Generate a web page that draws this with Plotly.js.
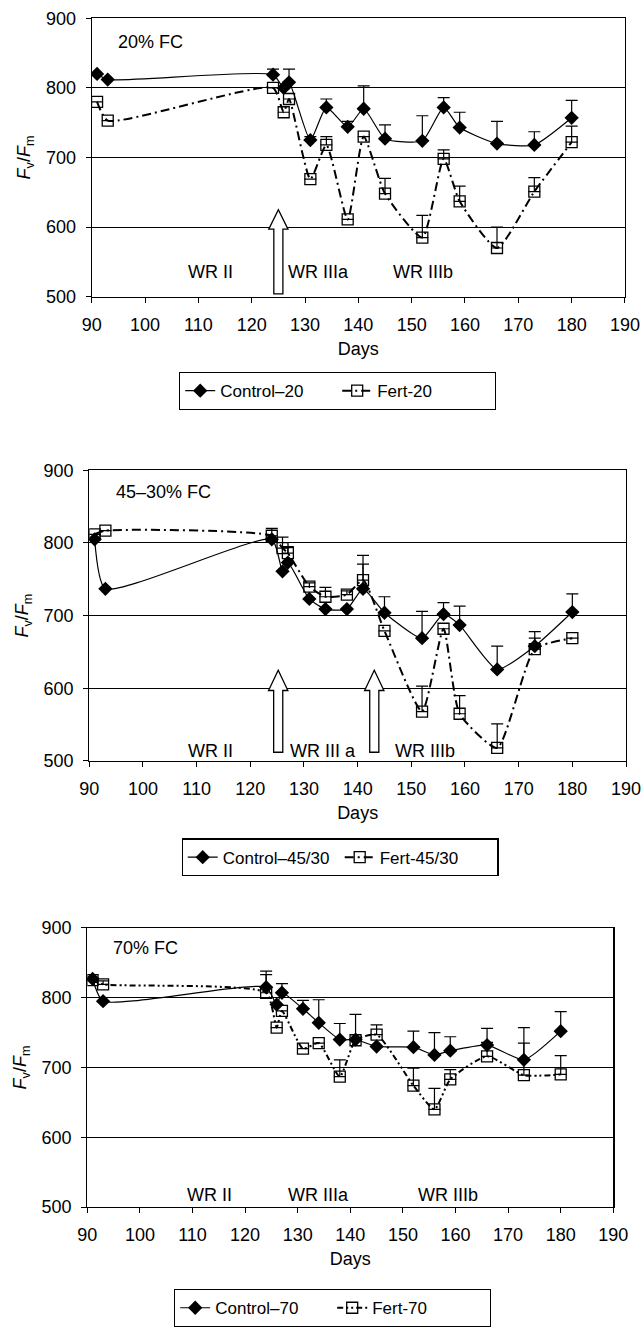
<!DOCTYPE html>
<html>
<head>
<meta charset="utf-8">
<script src="https://cdn.plot.ly/plotly-3.0.1.min.js"></script>
<style>html,body{margin:0;padding:0;background:#fff;}#chart{width:641px;height:1327px;}</style>
</head>
<body>
<div id="chart"></div>
<script>
// ---- data ----
const days = [91, 93, 124, 126, 127, 131, 134, 138, 141, 145, 152, 156, 159, 166, 173, 180];

const ctrl20    = [820, 812, 819, 800, 808, 725, 772, 744, 770, 727, 724, 772, 743, 720, 718, 757];
const ctrl20Err = [0, 0, 8, 0, 19, 5, 12, 8, 33, 20, 36, 14, 22, 32, 19, 25];
const fert20    = [780, 753, 800, 765, 784, 669, 718, 611, 730, 648, 585, 698, 637, 570, 651, 722];
const fert20Err = [0, 0, 0, 0, 0, 0, 12, 0, 0, 22, 32, 13, 22, 30, 20, 23];

const ctrl45    = [805, 737, 805, 761, 773, 723, 709, 709, 737, 704, 669, 702, 687, 626, 658, 705];
const ctrl45Err = [0, 0, 0, 0, 0, 0, 0, 0, 34, 22, 37, 16, 26, 32, 20, 25];
const fert45    = [812, 817, 810, 793, 786, 740, 726, 729, 749, 679, 568, 682, 565, 518, 654, 669];
const fert45Err = [0, 0, 10, 15, 9, 5, 13, 5, 34, 0, 35, 0, 25, 33, 15, 0];

const ctrl70    = [827, 795, 815, 790, 807, 784, 764, 740, 740, 730, 729, 718, 724, 732, 711, 752];
const ctrl70Err = [0, 0, 23, 0, 13, 12, 33, 23, 0, 0, 23, 32, 20, 24, 46, 28];
const fert70    = [825, 819, 807, 757, 781, 727, 735, 687, 739, 747, 674, 640, 683, 716, 689, 690];
const fert70Err = [0, 5, 26, 0, 0, 0, 0, 24, 37, 14, 25, 30, 14, 20, 46, 27];

const panelLabels = ['20% FC', '45–30% FC', '70% FC'];
const ctrlNames = ['Control–20', 'Control–45/30', 'Control–70'];
const fertNames = ['Fert-20', 'Fert-45/30', 'Fert-70'];
const xTitle = 'Days';
const yTitle = '<i>F</i><sub>v</sub>/<i>F</i><sub>m</sub>';

// phase labels per panel: [text, day]
const phases1 = [['WR II', 112.3], ['WR IIIa', 132.5], ['WR IIIb', 152.2]];
const phases2 = [['WR II', 112.6], ['WR III a', 133.6], ['WR IIIb', 152.5]];
const phases3 = [['WR II', 113.3], ['WR IIIa', 133.9], ['WR IIIb', 158.6]];
// arrow days per panel
const arrows1 = [125];
const arrows2 = [125.2, 143.1];
const arrows3 = [];

// ---- layout geometry ----
const panels = [
  {xd: [0.1431, 0.9750], yd: [0.7757, 0.9862], ctrl: ctrl20, ce: ctrl20Err, fert: fert20, fe: fert20Err,
   phases: phases1, phaseY: 535, arrows: arrows1, arrowBot: 504, labelDay: 101.1, labelY: 866,
   fertDash: '9px,4px,2px,4px', legY: 1 - 373/1327, legX: 337.5/641},
  {xd: [0.1393, 0.9766], yd: [0.4248, 0.6445], ctrl: ctrl45, ce: ctrl45Err, fert: fert45, fe: fert45Err,
   phases: phases2, phaseY: 514, arrows: arrows2, arrowBot: 512, labelDay: 103.9, labelY: 870,
   fertDash: '9px,4px,2px,4px', legX: 340/641, legY: 1 - 841/1327},
  {xd: [0.1362, 0.9568], yd: [0.0876, 0.2987], ctrl: ctrl70, ce: ctrl70Err, fert: fert70, fe: fert70Err,
   phases: phases3, phaseY: 518, arrows: arrows3, arrowBot: 505, labelDay: 101.1, labelY: 871,
   fertDash: '6px,3px,2px,3px,2px,3px', legX: 332.5/641, legY: 1 - 1293/1327}
];

const FONT = 'Liberation Sans, Arial, sans-serif';
const traces = [];
const shapes = [];
const annotations = [];
const layout = {
  width: 641, height: 1327,
  margin: {l: 0, r: 0, t: 0, b: 0},
  paper_bgcolor: '#fff', plot_bgcolor: '#fff',
  font: {family: FONT, color: '#000', size: 18},
  showlegend: true
};

panels.forEach((p, i) => {
  const n = i === 0 ? '' : String(i + 1);
  const xa = 'x' + n, ya = 'y' + n;
  const leg = 'legend' + n;
  const nan = a => a.map(v => v === 0 ? NaN : v);
  const zeros = p.ce.map(() => 0);
  traces.push({
    x: days, y: p.ctrl, xaxis: xa, yaxis: ya, legend: leg, name: ctrlNames[i],
    type: 'scatter', mode: 'lines+markers',
    line: {color: '#000', width: 1.2, shape: 'spline', smoothing: 0.55},
    marker: {symbol: 'diamond', size: 11, color: '#000'},
    error_y: {type: 'data', symmetric: false, array: nan(p.ce), arrayminus: zeros, color: '#000', thickness: 1.2, width: 6}
  });
  traces.push({
    x: days, y: p.fert, xaxis: xa, yaxis: ya, legend: leg, name: fertNames[i],
    type: 'scatter', mode: 'lines+markers',
    line: {color: '#000', width: 2, dash: p.fertDash, shape: 'spline', smoothing: 0.55},
    marker: {symbol: 'square-open', size: 11, color: '#000', line: {width: 1.3}},
    error_y: {type: 'data', symmetric: false, array: nan(p.fe), arrayminus: zeros, color: '#000', thickness: 1.2, width: 6}
  });
  layout['xaxis' + n] = {
    domain: p.xd, anchor: ya, range: [90, 190], dtick: 10, tick0: 90,
    ticks: 'outside', ticklen: 5, tickcolor: '#000', tickwidth: 1,
    showline: true, linecolor: '#000', linewidth: 1.2, mirror: true,
    showgrid: false, zeroline: false, fixedrange: true,
    tickfont: {size: 18, family: FONT}, ticklabelstandoff: 6, ticklabeloverflow: 'allow',
    title: {text: xTitle, font: {size: 18, family: FONT}, standoff: 8}
  };
  layout['yaxis' + n] = {
    domain: p.yd, anchor: xa, range: [500, 900], dtick: 100, tick0: 500,
    ticks: 'outside', ticklen: 5, tickcolor: '#000', tickwidth: 1,
    showline: true, linecolor: '#000', linewidth: 1.2, mirror: true,
    showgrid: true, gridcolor: '#000', gridwidth: 1, zeroline: false, fixedrange: true,
    tickfont: {size: 18, family: FONT}, ticklabelstandoff: 6,
    title: {text: yTitle, font: {size: 18, family: FONT}, standoff: 10}
  };
  layout[leg] = {
    orientation: 'h', x: p.legX, y: p.legY, xanchor: 'center', yanchor: 'top',
    bordercolor: '#000', borderwidth: 1.2, bgcolor: '#fff',
    font: {size: 17, family: FONT}, entrywidth: 112, entrywidthmode: 'pixels',
    itemclick: false, itemdoubleclick: false
  };
  // panel label
  annotations.push({xref: xa, yref: ya, x: p.labelDay, y: p.labelY, text: panelLabels[i],
    showarrow: false, font: {size: 18, family: FONT}, xanchor: 'center', yanchor: 'middle'});
  p.phases.forEach(([t, d]) => annotations.push({xref: xa, yref: ya, x: d, y: p.phaseY, text: t,
    showarrow: false, font: {size: 18, family: FONT}, xanchor: 'center', yanchor: 'middle'}));
  // hollow arrows
  p.arrows.forEach(d => {
    const hw = 0.85, hh = 1.8, tip = 625, base = 597;
    const path = `M ${d - hw} ${p.arrowBot} L ${d - hw} ${base} L ${d - hh} ${base} L ${d} ${tip} ` +
                 `L ${d + hh} ${base} L ${d + hw} ${base} L ${d + hw} ${p.arrowBot} Z`;
    shapes.push({type: 'path', xref: xa, yref: ya, path: path, fillcolor: '#fff',
      line: {color: '#000', width: 1.3}, layer: 'above'});
  });
});
layout.shapes = shapes;
layout.annotations = annotations;

Plotly.newPlot('chart', traces, layout, {staticPlot: true, displayModeBar: false});
</script>
</body>
</html>
